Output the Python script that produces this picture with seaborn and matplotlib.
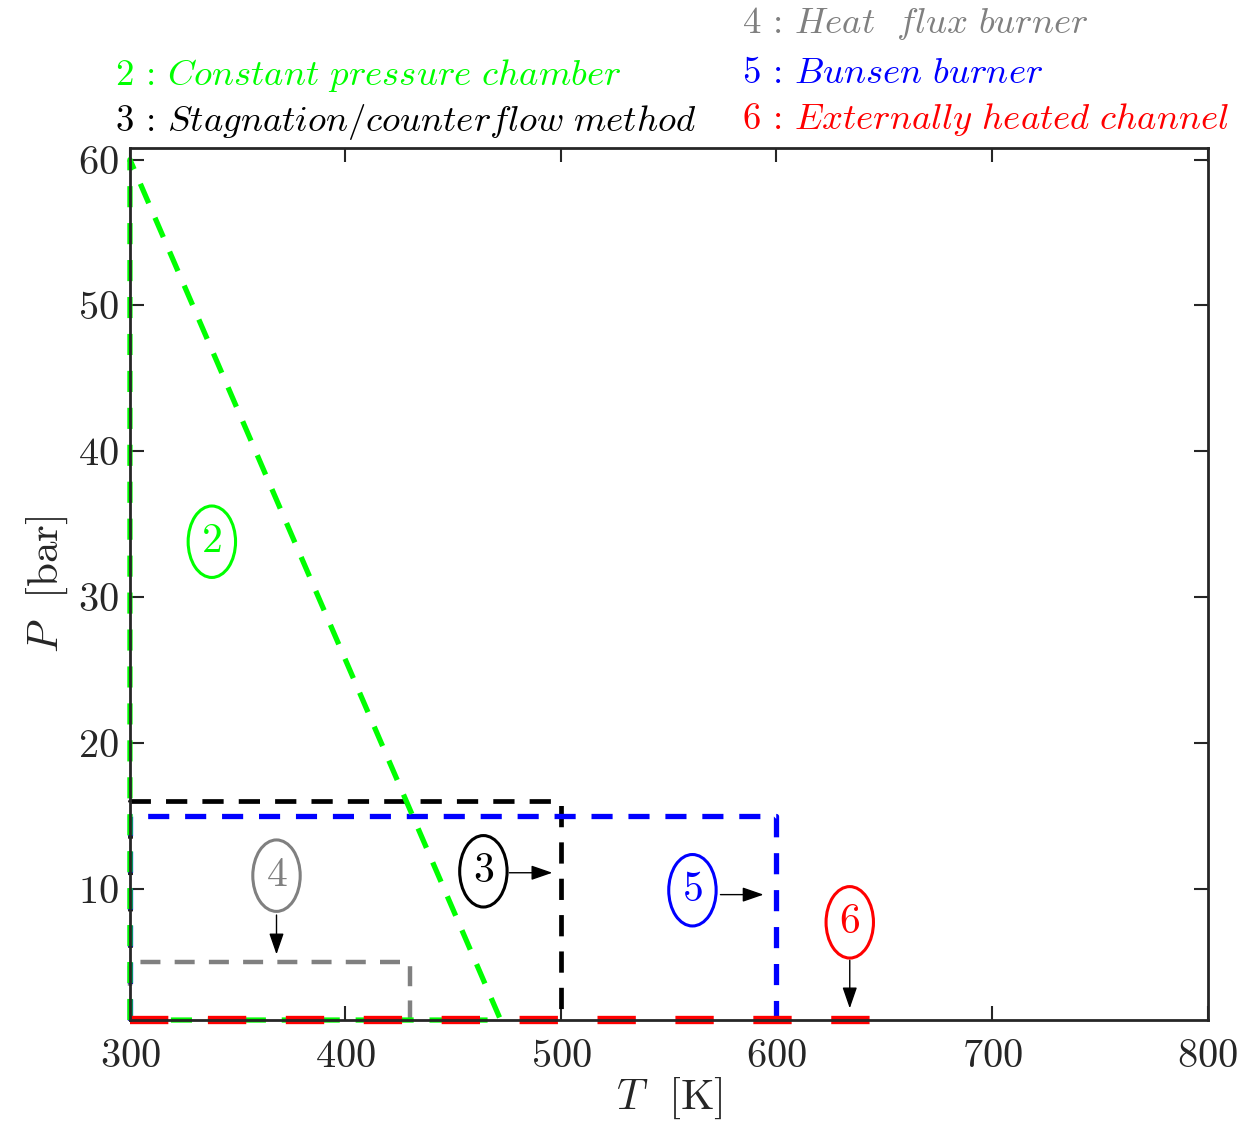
import matplotlib
matplotlib.use("Agg")
import matplotlib.pyplot as plt
from matplotlib.patches import Ellipse
import pandas as pd
import seaborn as sns

# outline of each measuring technique in the T-P plane
T_chamber = [300, 300, 472, 300]
P_chamber = [1, 60, 1, 1]
T_stag = [300, 300, 500, 500]
P_stag = [1, 16, 16, 1]
T_heatflux = [300, 300, 430, 430]
P_heatflux = [1, 5, 5, 1]
T_bunsen = [300, 300, 600, 600]
P_bunsen = [1, 15, 15, 1]
T_channel = [300, 650]
P_channel = [1, 1]

labels = ["2", "3", "4", "5", "6"]
label_T = [338, 464, 368, 561, 634]
label_P = [33.8, 11.2, 10.9, 9.9, 7.7]
legend_text = [r"$2\,:\,Constant\ pressure\ chamber$",
               r"$3\,:\,Stagnation/counter flow\ method$",
               r"$4\,:\,Heat\ \ flux\ burner$",
               r"$5\,:\,Bunsen\ burner$",
               r"$6\,:\,Externally\ heated\ channel$"]

green = (0, 1, 0)
gray = (0.5, 0.5, 0.5)
colors = [green, "black", gray, "blue", "red"]
dark = (0.15, 0.15, 0.15)

sns.set_style("ticks")
plt.rcParams["font.family"] = ["cmr10", "DejaVu Serif"]
plt.rcParams["mathtext.fontset"] = "cm"
plt.rcParams["axes.formatter.use_mathtext"] = True

fig = plt.figure(figsize=(12.4, 11.34), dpi=100)
ax = fig.add_axes([0.1048, 0.1005, 0.869, 0.769])

shapes = [
    (T_stag, P_stag, "black", 3.4, (0, (4.5, 3.2))),
    (T_heatflux, P_heatflux, gray, 3.2, (0, (4.5, 3.2))),
    (T_bunsen, P_bunsen, "blue", 3.8, (0, (4, 3))),
    (T_chamber, P_chamber, green, 3.8, (0, (4, 3))),
    (T_channel, P_channel, "red", 6.0, (0, (4.6, 4.75))),
]
for T, P, c, lw, ls in shapes:
    df = pd.DataFrame({"T": T, "P": P})
    sns.lineplot(data=df, x="T", y="P", sort=False, estimator=None, ax=ax,
                 color=c, linewidth=lw, linestyle=ls, clip_on=False)

# circled labels
for lab, t, p, c in zip(labels, label_T, label_P, colors):
    ax.add_patch(Ellipse((t, p), 22, 4.9, fill=False, edgecolor=c, linewidth=2.2))
    ax.text(t, p, "$" + lab + "$", color=c, fontsize=30, ha="center", va="center")

arrow = dict(arrowstyle="-|>,head_width=0.45,head_length=1.3", color="black",
             linewidth=1.0, shrinkA=0, shrinkB=0)
ax.annotate("", xy=(496, 11.1), xytext=(476, 11.1), arrowprops=arrow)
ax.annotate("", xy=(368, 5.5), xytext=(368, 8.2), arrowprops=arrow)
ax.annotate("", xy=(594, 9.6), xytext=(574, 9.6), arrowprops=arrow)
ax.annotate("", xy=(634, 1.8), xytext=(634, 5.1), arrowprops=arrow)

ax.set_xlim(300, 800)
ax.set_ylim(1, 60.8)
ax.set_xticks([300, 400, 500, 600, 700, 800])
ax.set_yticks([10, 20, 30, 40, 50, 60])
ax.tick_params(direction="in", length=10, width=1.5, labelsize=29,
               top=True, right=True, colors=dark)
ax.tick_params(axis="x", pad=14)
ax.tick_params(axis="y", pad=8)
for s in ax.spines.values():
    s.set_linewidth(2)
    s.set_color(dark)
ax.set_xlabel(r"$T\ $ [K]", fontsize=31, color=dark, labelpad=0)
ax.set_ylabel(r"$P\ $ [bar]", fontsize=31, color=dark, labelpad=6)

# method legend above the axes
fs = 26.5
fig.text(115 / 1240, 1 - 75 / 1134, legend_text[0], color=colors[0], fontsize=fs, va="center")
fig.text(115 / 1240, 1 - 122 / 1134, legend_text[1], color=colors[1], fontsize=fs, va="center")
fig.text(742 / 1240, 1 - 24 / 1134, legend_text[2], color=colors[2], fontsize=fs, va="center")
fig.text(742 / 1240, 1 - 73 / 1134, legend_text[3], color=colors[3], fontsize=fs, va="center")
fig.text(742 / 1240, 1 - 120 / 1134, legend_text[4], color=colors[4], fontsize=fs, va="center")

fig.savefig("out.png", dpi=100)
